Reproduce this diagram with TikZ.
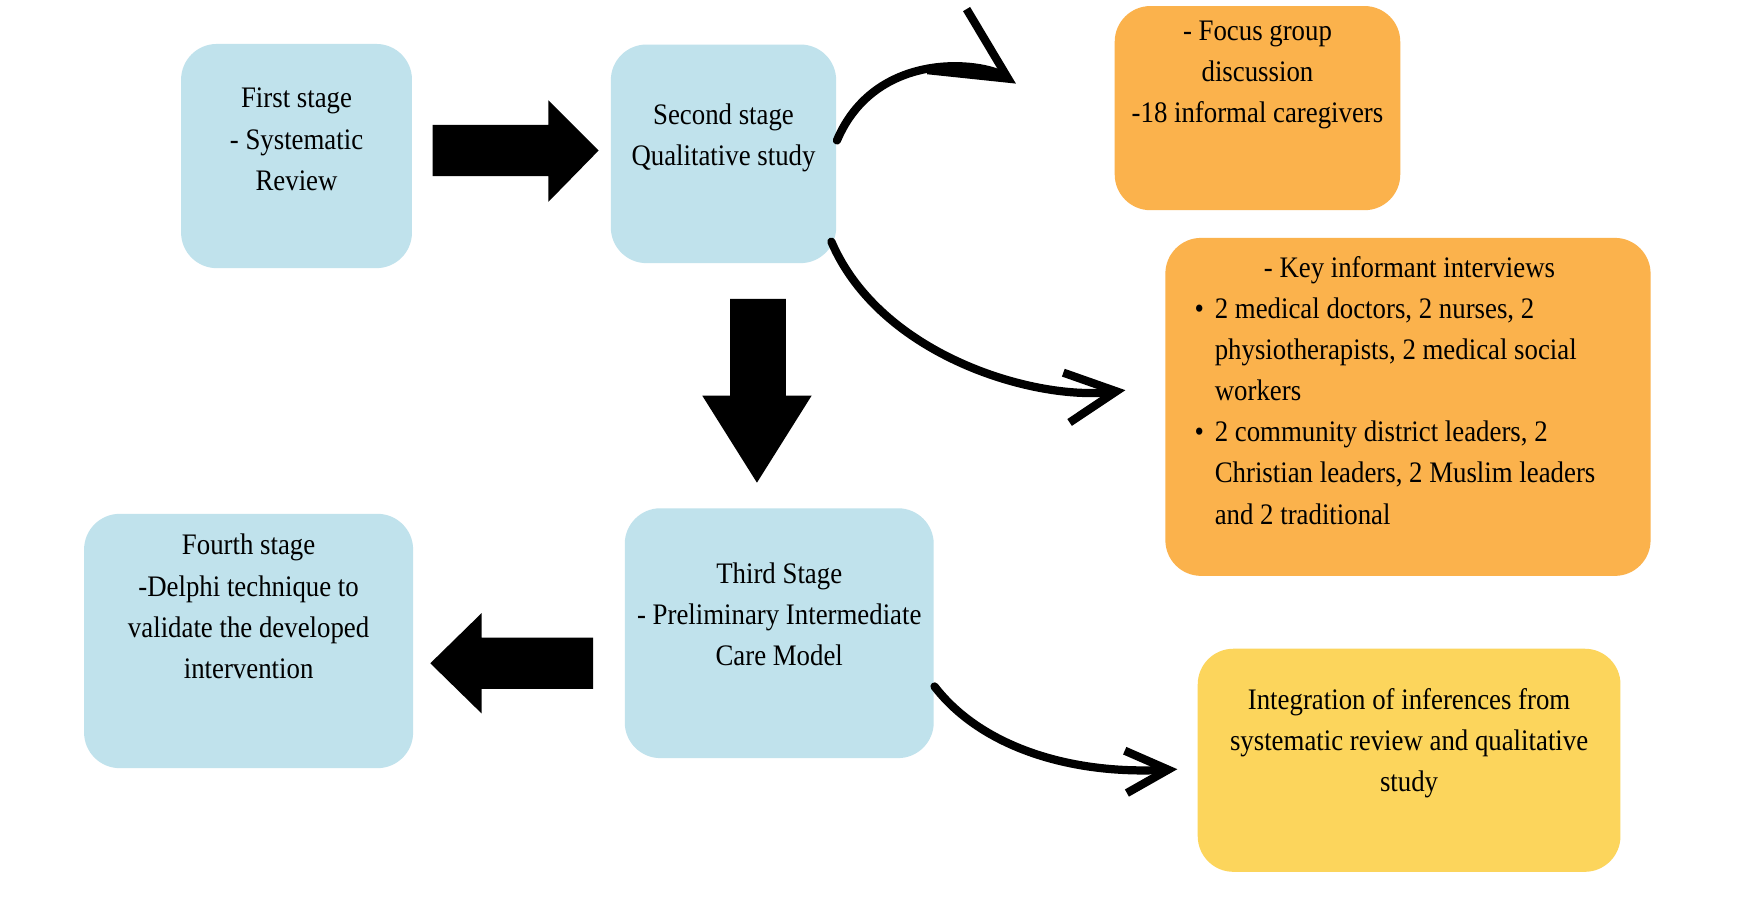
\documentclass[tikz,border=0pt]{standalone}
\usepackage{fontspec}
\setmainfont[FakeStretch=0.9]{Liberation Serif}
\usetikzlibrary{arrows.meta}
\definecolor{bluebox}{HTML}{C0E2EC}
\definecolor{orangebox}{HTML}{FBB24C}
\definecolor{yellowbox}{HTML}{FCD55C}
\begin{document}
\begin{tikzpicture}[x=0.01cm,y=-0.01cm,
  box/.style={rounded corners=0.32cm,inner sep=0pt},
  txt/.style={inner sep=0pt,align=center,font=\fontsize{7.6}{10.5}\selectfont},
  curv/.style={line width=2.1pt,line cap=round,-{Straight Barb[length=#1,width=#1,line width=2.1pt]}},
  blk/.style={fill=black}]
\useasboundingbox (0,0) rectangle (1568,807);
\fill[white] (0,0) rectangle (1568,807);
\node[box,fill=bluebox,minimum width=2.07cm,minimum height=2.01cm] (s1) at (266,140) {};
\node[txt] (t1) at (266,125) {First stage\\- Systematic\\Review};
\node[box,fill=bluebox,minimum width=2.02cm,minimum height=1.96cm] (s2) at (649,138) {};
\node[txt] (t2) at (649,124) {Second stage\\Qualitative study};
\node[box,fill=orangebox,minimum width=2.56cm,minimum height=1.83cm] (fg) at (1128,97) {};
\node[txt] (tfg) at (1128,67) {- Focus group\\discussion\\-18 informal caregivers};
\node[box,fill=orangebox,minimum width=4.35cm,minimum height=3.03cm] (ki) at (1263,365) {};
\node[txt,align=left,anchor=north west] (tki) at (1071,229) {\parbox{3.85cm}{\raggedright\fontsize{7.6}{10.5}\selectfont
{\centering - Key informant interviews\par}
\hangindent=1.8mm\noindent\makebox[1.8mm][l]{\textbullet}2 medical doctors, 2 nurses, 2 physiotherapists, 2 medical social workers\par
\hangindent=1.8mm\noindent\makebox[1.8mm][l]{\textbullet}2 community district leaders, 2 Christian leaders, 2 Muslim leaders and 2 traditional\par}};
\node[box,fill=bluebox,minimum width=2.77cm,minimum height=2.24cm] (s3) at (699,568) {};
\node[txt] (t3) at (699,551) {Third Stage\\- Preliminary Intermediate\\Care Model};
\node[box,fill=bluebox,minimum width=2.95cm,minimum height=2.28cm] (s4) at (223,575) {};
\node[txt] (t4) at (223,544) {Fourth stage\\-Delphi technique to\\validate the developed\\intervention};
\node[box,fill=yellowbox,minimum width=3.79cm,minimum height=2.0cm] (ig) at (1264,682) {};
\node[txt] (tig) at (1264,667) {Integration of inferences from\\systematic review and qualitative\\study};
% block arrows
\fill[blk] (388,112) -- (492,112) -- (492,90) -- (537,135) -- (492,181) -- (492,158) -- (388,158) -- cycle;
\fill[blk] (655,268) -- (705,268) -- (705,355) -- (728,355) -- (679,433) -- (630,355) -- (655,355) -- cycle;
\fill[blk] (532,572) -- (432,572) -- (432,550) -- (386,595) -- (432,640) -- (432,618) -- (532,618) -- cycle;
% curved arrows
\draw[curv=0.65cm] (s2.east) ++(0,-12) .. controls (785,45) and (880,55) .. ([xshift=-25]fg.west |- 0,75);
\draw[curv=0.45cm] (s2.south east) ++(-5,-20) .. controls (790,320) and (930,360) .. ([xshift=-10]ki.west |- 0,350);
\draw[curv=0.38cm] (s3.south east) ++(0,-65) .. controls (880,670) and (960,695) .. ([xshift=-5]ig.west |- 0,690);
\end{tikzpicture}
\end{document}
